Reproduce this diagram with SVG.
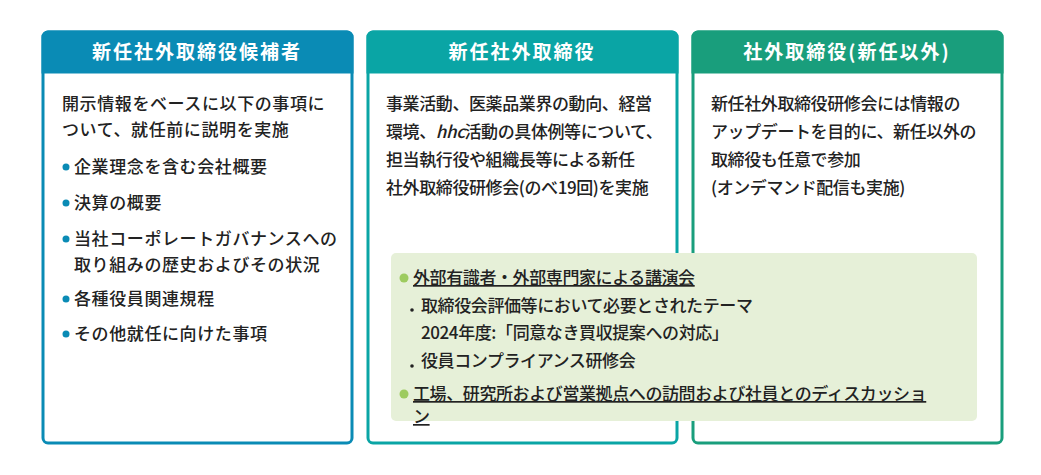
<svg xmlns="http://www.w3.org/2000/svg" width="1041" height="475" viewBox="0 0 1041 475">
<style>
text{font-family:"Noto Sans CJK JP","Noto Sans",sans-serif;font-size:17px;letter-spacing:0.6px;fill:#222;font-weight:500}
.h{fill:#fff;font-size:19px;letter-spacing:2px;font-weight:700;text-anchor:middle}
.t{letter-spacing:-0.4px}
.u{text-decoration:underline}
</style>
<rect width="1041" height="475" fill="#fff"/>
<g id="n1">
<rect x="43" y="32" width="309" height="411" rx="5" fill="#fff" stroke="#0a8bb5" stroke-width="3"/>
<path d="M43 72V37a5 5 0 0 1 5-5h299a5 5 0 0 1 5 5v35z" fill="#0a8bb5" stroke="#0a8bb5" stroke-width="3"/>
<text class="h" x="197" y="59">新任社外取締役候補者</text>
<text x="62" y="110">開示情報をベースに以下の事項に</text>
<text x="62" y="136">ついて、就任前に説明を実施</text>
<g fill="#0a8bb5"><circle cx="66" cy="167" r="3.5"/><circle cx="66" cy="203" r="3.5"/><circle cx="66" cy="239" r="3.5"/><circle cx="66" cy="299" r="3.5"/><circle cx="66" cy="334" r="3.5"/></g>
<text x="74" y="173">企業理念を含む会社概要</text>
<text x="74" y="209">決算の概要</text>
<text x="74" y="245">当社コーポレートガバナンスへの</text>
<text x="74" y="271">取り組みの歴史およびその状況</text>
<text x="74" y="305">各種役員関連規程</text>
<text x="74" y="340">その他就任に向けた事項</text>
</g>
<g id="n2">
<rect x="368" y="32" width="309" height="411" rx="5" fill="#fff" stroke="#0aa5a5" stroke-width="3"/>
<path d="M368 72V37a5 5 0 0 1 5-5h299a5 5 0 0 1 5 5v35z" fill="#0aa5a5" stroke="#0aa5a5" stroke-width="3"/>
<text class="h" x="522" y="59">新任社外取締役</text>
<text class="t" x="386" y="110">事業活動、医薬品業界の動向、経営</text>
<text class="t" x="386" y="138">環境、<tspan font-style="italic">hhc</tspan>活動の具体例等について、</text>
<text class="t" x="386" y="166">担当執行役や組織長等による新任</text>
<text class="t" x="386" y="194">社外取締役研修会(のべ19回)を実施</text>
</g>
<g id="n3">
<rect x="693" y="32" width="309" height="411" rx="5" fill="#fff" stroke="#199e7c" stroke-width="3"/>
<path d="M693 72V37a5 5 0 0 1 5-5h299a5 5 0 0 1 5 5v35z" fill="#199e7c" stroke="#199e7c" stroke-width="3"/>
<text class="h" x="847" y="59">社外取締役(新任以外)</text>
<text class="t" x="711" y="110">新任社外取締役研修会には情報の</text>
<text class="t" x="711" y="138">アップデートを目的に、新任以外の</text>
<text class="t" x="711" y="166">取締役も任意で参加</text>
<text class="t" x="711" y="194">(オンデマンド配信も実施)</text>
</g>
<g id="n4">
<rect x="391" y="253" width="586" height="168" rx="5" fill="#e6f0d8"/>
<g fill="#9dcb5f"><circle cx="404" cy="278" r="4.5"/><circle cx="404" cy="394" r="4.5"/></g>
<text class="u t" x="413" y="284"> 外部有識者・外部専門家による講演会</text>
<g fill="#222"><circle cx="412" cy="310" r="1.8"/><circle cx="412" cy="366" r="1.8"/></g>
<text class="t" x="421" y="312">取締役会評価等において必要とされたテーマ</text>
<text class="t" x="421" y="339">2024年度:「同意なき買収提案への対応」</text>
<text class="t" x="421" y="367">役員コンプライアンス研修会</text>
<text class="u t" x="413" y="400"> 工場、研究所および営業拠点への訪問および社員とのディスカッショ</text>
<text class="u t" x="413" y="423"> ン</text>
</g>
<g id="connectors"/>
</svg>
